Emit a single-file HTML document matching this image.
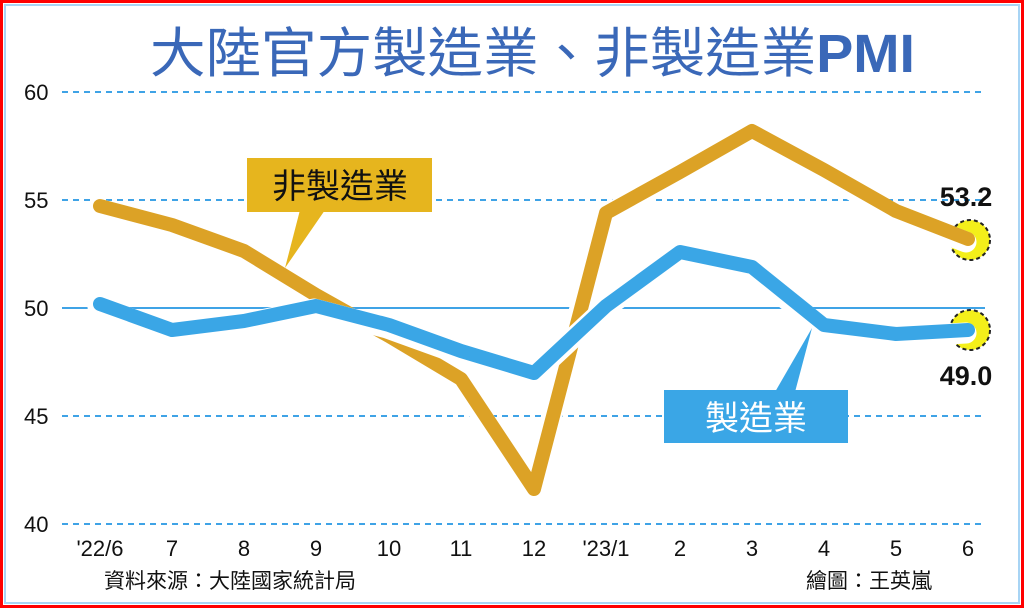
<!DOCTYPE html>
<html><head><meta charset="utf-8"><style>
html,body{margin:0;padding:0;background:#fff}
svg{display:block}
text{font-family:"Liberation Sans","Noto Sans CJK TC",sans-serif}
</style></head><body>
<svg width="1024" height="608" viewBox="0 0 1024 608" xmlns="http://www.w3.org/2000/svg">
<rect x="0" y="0" width="1024" height="608" fill="#fff"/>
<rect x="1.5" y="1.5" width="1021" height="605" fill="none" stroke="#ff0000" stroke-width="3"/>
<rect x="5" y="5" width="1014" height="598" fill="none" stroke="#a8d4f4" stroke-width="2"/>
<text x="150" y="72" font-size="54" fill="#3a68b8" textLength="765" lengthAdjust="spacingAndGlyphs">大陸官方製造業、非製造業<tspan font-weight="bold">PMI</tspan></text>
<g stroke="#3fa3e6" stroke-width="2">
<line x1="62" y1="92" x2="985" y2="92" stroke-dasharray="6,5"/>
<line x1="62" y1="200" x2="985" y2="200" stroke-dasharray="6,5"/>
<line x1="62" y1="308" x2="985" y2="308"/>
<line x1="62" y1="416" x2="985" y2="416" stroke-dasharray="6,5"/>
<line x1="62" y1="524" x2="985" y2="524" stroke-dasharray="6,5"/>
</g>
<g font-size="22" fill="#111">
<text x="24" y="100">60</text><text x="24" y="208">55</text><text x="24" y="316">50</text><text x="24" y="424">45</text><text x="24" y="532">40</text>
</g>
<g font-size="22" fill="#111" text-anchor="middle">
<text x="100" y="556">'22/6</text><text x="172" y="556">7</text><text x="244" y="556">8</text><text x="316" y="556">9</text><text x="389" y="556">10</text><text x="461" y="556">11</text><text x="534" y="556">12</text><text x="606" y="556">'23/1</text><text x="680" y="556">2</text><text x="752" y="556">3</text><text x="824" y="556">4</text><text x="896" y="556">5</text><text x="968" y="556">6</text>
</g>
<text x="104" y="588" font-size="21" fill="#111">資料來源：大陸國家統計局</text>
<text x="806" y="588" font-size="21" fill="#111">繪圖：王英嵐</text>
<circle cx="970" cy="240" r="20" fill="#f4ef1a" stroke="#222" stroke-width="2" stroke-dasharray="4,3"/>
<circle cx="970" cy="330" r="20" fill="#f4ef1a" stroke="#222" stroke-width="2" stroke-dasharray="4,3"/>
<polyline points="100,206 172,225 244,251 316,295 389,336 461,379 534,489 606,213 680,172 752,131 824,170 896,211 968,239" fill="none" stroke="#fff" stroke-width="21" stroke-linejoin="round" stroke-linecap="round" transform="translate(-2,3)"/>
<polyline points="100,206 172,225 244,251 316,295 389,336 461,379 534,489 606,213 680,172 752,131 824,170 896,211 968,239" fill="none" stroke="#dca226" stroke-width="14" stroke-linejoin="round" stroke-linecap="round"/>
<polyline points="100,304 172,330 244,321 316,306 389,325 461,351 534,373 606,306 680,252 752,267 824,325 896,334 968,330" fill="none" stroke="#fff" stroke-width="21" stroke-linejoin="round" stroke-linecap="round" transform="translate(-2,3)"/>
<polyline points="100,304 172,330 244,321 316,306 389,325 461,351 534,373 606,306 680,252 752,267 824,325 896,334 968,330" fill="none" stroke="#3aa6e6" stroke-width="14" stroke-linejoin="round" stroke-linecap="round"/>
<polygon points="300,210 325,210 285,268" fill="#e6b51e"/>
<rect x="247" y="158" width="185" height="54" fill="#e6b51e"/>
<text x="340" y="198" text-anchor="middle" font-size="34" fill="#111">非製造業</text>
<polygon points="775,392 795,392 812,328" fill="#3aa6e6"/>
<rect x="664" y="390" width="184" height="53" fill="#3aa6e6"/>
<text x="756" y="430" text-anchor="middle" font-size="34" fill="#fff">製造業</text>
<text x="966" y="206" text-anchor="middle" font-size="27" font-weight="bold" fill="#111">53.2</text>
<text x="966" y="385" text-anchor="middle" font-size="27" font-weight="bold" fill="#111">49.0</text>
</svg>
</body></html>
